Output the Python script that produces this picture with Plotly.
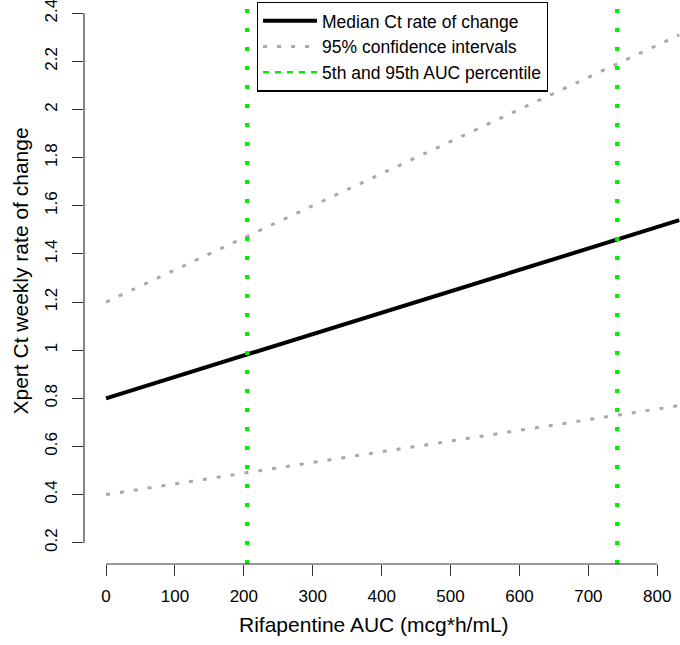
import plotly.graph_objects as go

# ---- data ----
auc = [0, 832]
median_rate = [0.80, 1.54]
upper_ci = [1.20, 2.31]
lower_ci = [0.40, 0.77]
auc_percentiles = [205, 742]

x_ticks = [0, 100, 200, 300, 400, 500, 600, 700, 800]
y_ticks = [0.2, 0.4, 0.6, 0.8, 1.0, 1.2, 1.4, 1.6, 1.8, 2.0, 2.2, 2.4]
y_tick_text = ["0.2", "0.4", "0.6", "0.8", "1", "1.2", "1.4", "1.6", "1.8", "2", "2.2", "2.4"]

FONT = "Liberation Sans, Arial, Helvetica, sans-serif"
GRAY = "#a9a9a9"
GREEN = "#00ee00"
AX = "#333333"

fig = go.Figure()

fig.add_trace(go.Scatter(x=auc, y=median_rate, mode="lines",
                         line=dict(color="black", width=4),
                         name="Median Ct rate of change"))
fig.add_trace(go.Scatter(x=auc, y=upper_ci, mode="lines",
                         line=dict(color=GRAY, width=3, dash="4px,10px"),
                         name="95% confidence intervals"))
fig.add_trace(go.Scatter(x=auc, y=lower_ci, mode="lines",
                         line=dict(color=GRAY, width=3, dash="4px,10px"),
                         name="95% confidence intervals",
                         showlegend=False))
# legend entry for percentile lines
fig.add_trace(go.Scatter(x=[None], y=[None], mode="lines",
                         line=dict(color=GREEN, width=2.5, dash="6px,6px"),
                         name="5th and 95th AUC percentile"))

for p in auc_percentiles:
    fig.add_shape(type="line", xref="x", yref="y domain", x0=p, x1=p, y0=0, y1=1,
                  line=dict(color=GREEN, width=4.5, dash="4px,15px"))

# partial axis lines (R style)
fig.add_shape(type="line", xref="paper", yref="y", x0=0, x1=0,
              y0=min(y_ticks), y1=max(y_ticks), line=dict(color=AX, width=1.2))
fig.add_shape(type="line", xref="x", yref="paper", x0=min(x_ticks), x1=max(x_ticks),
              y0=0, y1=0, line=dict(color=AX, width=1.2))

fig.update_layout(
    width=680, height=645,
    margin=dict(l=84, r=0, t=0, b=81),
    paper_bgcolor="white", plot_bgcolor="white",
    font=dict(family=FONT, size=17, color="black"),
    showlegend=True,
    legend=dict(x=0.29, y=0.997, xanchor="left", yanchor="top",
                bgcolor="white", bordercolor="black", borderwidth=1.2,
                font=dict(size=17.5, family=FONT), itemwidth=54),
    xaxis=dict(range=[-32, 833], tickvals=x_ticks, ticks="outside", ticklen=11,
               tickcolor=AX, tickwidth=1.2, showgrid=False, zeroline=False,
               showline=False, tickfont=dict(size=17), ticklabelstandoff=6,
               automargin=False, ticklabeloverflow="allow"),
    yaxis=dict(range=[0.1115, 2.455], tickvals=y_ticks, ticktext=y_tick_text,
               ticks="outside", ticklen=11, tickcolor=AX, tickwidth=1.2,
               showgrid=False, zeroline=False, showline=False,
               tickangle=-90, tickfont=dict(size=17), ticklabelstandoff=8,
               automargin=False, ticklabeloverflow="allow"),
    annotations=[
        dict(text="Rifapentine AUC (mcg*h/mL)", xref="paper", yref="paper",
             x=0.486, y=-0.108, xanchor="center", yanchor="middle",
             showarrow=False, font=dict(size=21)),
        dict(text="Xpert Ct weekly rate of change", xref="paper", yref="paper",
             x=-0.1057, y=0.5186, xanchor="center", yanchor="middle",
             textangle=-90, showarrow=False, font=dict(size=21)),
    ],
)

fig.write_html("out.html",
               config={"displayModeBar": False},
               post_script="document.body.style.margin='0';document.body.style.padding='0';")
